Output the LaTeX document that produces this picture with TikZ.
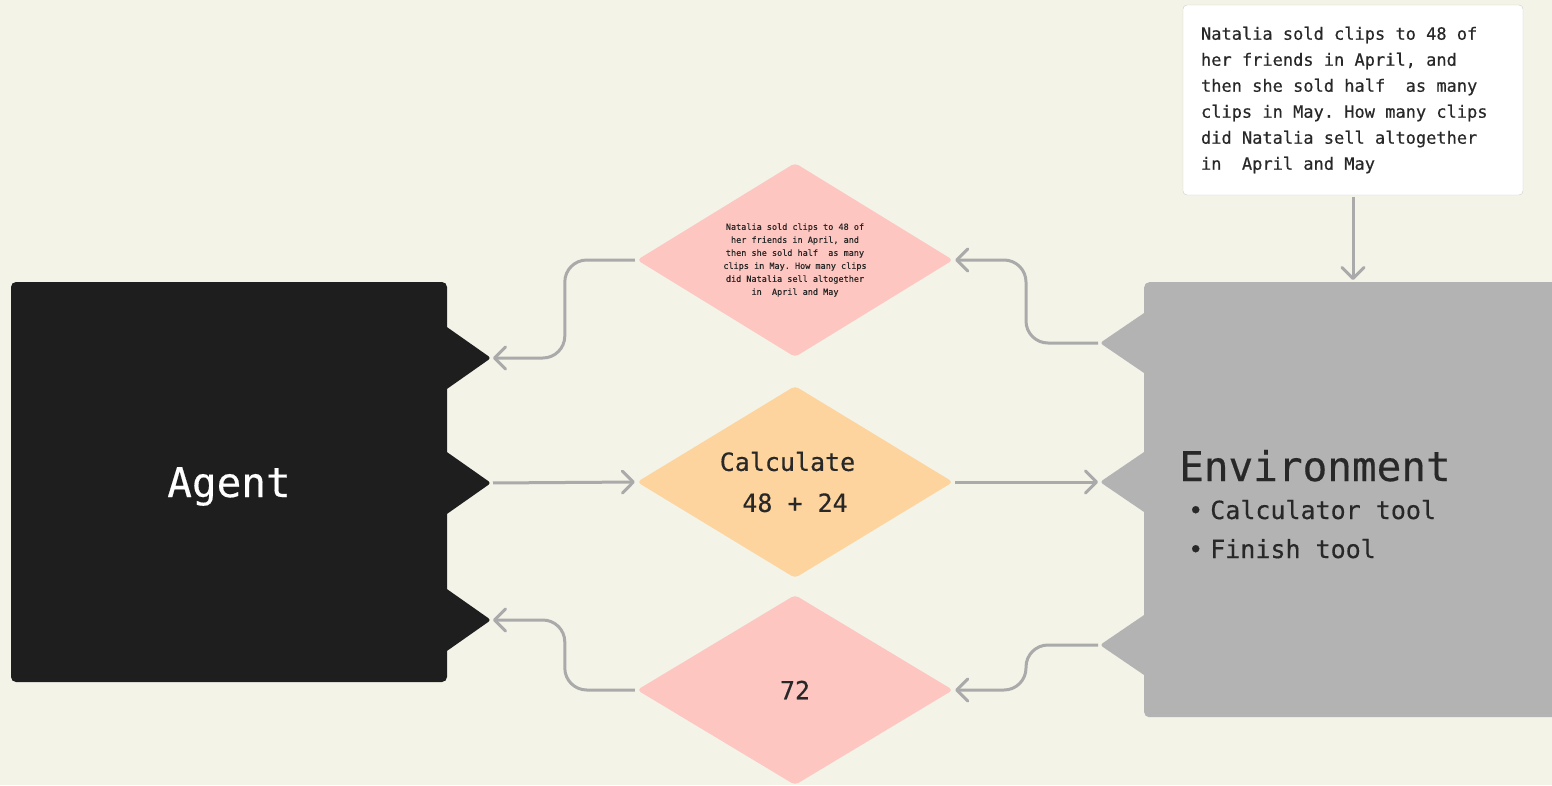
\documentclass[tikz,border=0pt]{standalone}
\usepackage{fontspec}
\setmonofont[FakeBold=0.4]{DejaVu Sans Mono}
\usepackage{xcolor}
\usepackage{tikz}
\usetikzlibrary{arrows.meta, shapes.geometric}

\definecolor{paper}{RGB}{243,243,232}
\definecolor{agentfill}{RGB}{30,30,30}
\definecolor{envfill}{RGB}{179,179,179}
\definecolor{pinkfill}{RGB}{254,198,192}
\definecolor{orangefill}{RGB}{253,212,158}
\definecolor{wire}{RGB}{170,170,170}
\definecolor{inkdark}{RGB}{40,40,40}
\definecolor{boxline}{RGB}{205,205,200}

\begin{document}
\begin{tikzpicture}[
  x=1pt, y=-1pt,
  panel/.style={rounded corners=5pt, inner sep=0pt},
  choice/.style={diamond, shape aspect=1.63, minimum width=316pt, inner sep=2pt,
                 rounded corners=4pt, text=inkdark, align=center},
  label/.style={anchor=base west, inner sep=0pt, text=inkdark},
  link/.style={draw=wire, line width=3pt, rounded corners=22pt, shorten <=2pt, shorten >=2pt,
               -{Straight Barb[length=11pt, width=22pt, line join=round, line cap=round]}},
  every node/.style={font=\ttfamily}
]
  % Page background
  \fill[paper] (0,0) rectangle (1552,785);
  \useasboundingbox (0,0) rectangle (1552,785);

  % Agent block
  \node[panel, fill=agentfill, minimum width=436pt, minimum height=400pt] (agent) at (229,482) {};
  \node[anchor=base, inner sep=0pt, text=white,
        font=\ttfamily\fontsize{41}{49}\selectfont] (agentname) at (229,497) {Agent};

  % Ports of the agent
  \coordinate (agtop) at (491,358);
  \coordinate (agmid) at (491,483);
  \coordinate (agbot) at (491,620);
  \foreach \c in {agtop, agmid, agbot}
    \fill[agentfill, rounded corners=3pt] (\c) -- ++(-47,-33) -- ++(0,66) -- cycle;

  % Environment block
  \node[panel, fill=envfill, minimum width=430pt, minimum height=435pt,
        anchor=north west] (env) at (1144,282) {};

  % Ports of the environment
  \coordinate (envtop) at (1100,343);
  \coordinate (envmid) at (1100,482);
  \coordinate (envbot) at (1100,645);
  \foreach \c in {envtop, envmid, envbot}
    \fill[envfill, rounded corners=3pt] (\c) -- ++(47,-32) -- ++(0,64) -- cycle;

  % Environment text
  \node[label, font=\ttfamily\fontsize{41}{49}\selectfont] (envtitle) at (1179,481) {Environment};
  \node[label, font=\ttfamily\fontsize{25}{30}\selectfont] (tool1) at (1188,519) {•\hspace{7pt}Calculator tool};
  \node[label, font=\ttfamily\fontsize{25}{30}\selectfont] (tool2) at (1188,558) {•\hspace{7pt}Finish tool};

  % Question card
  \node[draw=boxline, fill=white, rounded corners=4pt, minimum width=340pt, minimum height=190pt,
        text width=304pt, inner xsep=18pt, align=flush left, text=inkdark,
        font=\ttfamily\fontsize{17}{26}\selectfont] (question) at (1353,100)
        {Natalia sold clips to 48 of\\her friends in April, and\\then she sold half~ as many\\clips in May. How many clips\\did Natalia sell altogether\\in~ April and May};

  % Messages
  \node[choice, fill=pinkfill, minimum height=194pt,
        font=\ttfamily\fontsize{8.5}{13}\selectfont] (dtop) at (795,260)
        {Natalia sold clips to 48 of\\her friends in April, and\\then she sold half~ as many\\clips in May. How many clips\\did Natalia sell altogether\\in~ April and May};
  \node[choice, fill=orangefill, minimum height=192pt,
        font=\ttfamily\fontsize{25}{41}\selectfont] (dmid) at (795,482) {Calculate\phantom{x}\\48 + 24};
  \node[choice, fill=pinkfill, minimum height=190pt,
        font=\ttfamily\fontsize{25}{30}\selectfont] (dbot) at (795,690) {72};

  % Connectors
  \draw[link] (dtop.west) -- ++(-72,0) |- (agtop);
  \draw[link] (envtop) -- ++(-74,0) |- (dtop.east);
  \draw[link] (agmid) -- (dmid.west);
  \draw[link] (dmid.east) -- (envmid);
  \draw[link] (envbot) -- ++(-74,0) |- (dbot.east);
  \draw[link] (dbot.west) -- ++(-72,0) |- (agbot);
  \draw[link] (question.south) -- (question.south |- env.north);
\end{tikzpicture}
\end{document}
